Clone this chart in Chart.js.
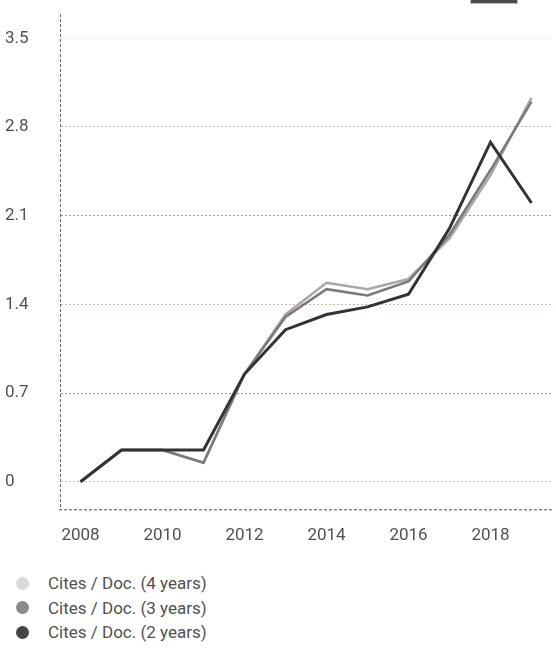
<!DOCTYPE html>
<html>
<head>
<meta charset="utf-8">
<script src="https://cdn.jsdelivr.net/npm/chart.js@4.4.1/dist/chart.umd.min.js"></script>
<style>
  body { margin: 0; background: #fff; font-family: Roboto, "Noto Sans", sans-serif; }
  #wrap { position: relative; width: 556px; height: 652px; overflow: hidden; }
  #citesChart { position: absolute; left: 0; top: 0; }
  #tab { position: absolute; left: 470px; top: -2px; width: 46px; height: 4px; background: #4a4a4a; border: 1px solid #bbb; }
  #legend { position: absolute; left: 0; top: 571px; list-style: none; margin: 0; padding: 0; }
  #legend li { height: 24.5px; display: flex; align-items: center; font-size: 17px; color: #505050; }
  #legend span.dot { display: inline-block; width: 13px; height: 13px; border-radius: 50%; margin-left: 16px; margin-right: 19px; }
</style>
</head>
<body>
<div id="wrap">
  <canvas id="citesChart" width="556" height="562"></canvas>
  <div id="tab"></div>
  <ul id="legend"></ul>
</div>
<script>
const anos = ['2008', '2009', '2010', '2011', '2012', '2013', '2014', '2015', '2016', '2017', '2018', '2019'];
const xTickLabels = ['2008', '2010', '2012', '2014', '2016', '2018'];
const yTicks = [0, 0.7, 1.4, 2.1, 2.8, 3.5];
const yTickLabels = ['0', '0.7', '1.4', '2.1', '2.8', '3.5'];

const cites4 = [0, 0.25, 0.25, 0.15, 0.85, 1.32, 1.57, 1.52, 1.6, 1.92, 2.42, 3.03];
const cites3 = [0, 0.25, 0.25, 0.15, 0.85, 1.3, 1.52, 1.47, 1.58, 1.95, 2.46, 3.0];
const cites2 = [0, 0.25, 0.25, 0.25, 0.85, 1.2, 1.32, 1.38, 1.48, 2.0, 2.68, 2.2];

const gridColors = ['#c8c8c8', '#8a9cc0', '#c9b2a8', '#8a9cc0', '#c9b2a8', '#ececec'];

const datasets = [
    {
        label: 'Cites / Doc. (4 years)',
        data: cites4,
        borderColor: '#a8a8a8',
        backgroundColor: '#d9d9d9',
        borderWidth: 2.5,
        tension: 0,
        pointRadius: 0,
        order: 3
    },
    {
        label: 'Cites / Doc. (3 years)',
        data: cites3,
        borderColor: '#7a7a7a',
        backgroundColor: '#8a8a8a',
        borderWidth: 2.5,
        tension: 0,
        pointRadius: 0,
        order: 2
    },
    {
        label: 'Cites / Doc. (2 years)',
        data: cites2,
        borderColor: '#333333',
        backgroundColor: '#444444',
        borderWidth: 3,
        tension: 0,
        pointRadius: 0,
        order: 1
    }
];

const ctx = document.getElementById('citesChart').getContext('2d');
const chart = new Chart(ctx, {
    type: 'line',
    data: {
        labels: anos,
        datasets: datasets
    },
    options: {
        responsive: false,
        animation: false,
        layout: {
            padding: { left: 5, right: 4, top: 14, bottom: 0 }
        },
        plugins: {
            legend: { display: false },
            tooltip: { enabled: false }
        },
        scales: {
            x: {
                offset: true,
                grid: { display: false, drawTicks: false },
                border: { display: true, color: '#8c8c8c', width: 1.5 },
                ticks: {
                    autoSkip: false,
                    maxRotation: 0,
                    padding: 16,
                    color: '#505050',
                    font: { family: 'Roboto', size: 17 },
                    callback: function(value) {
                        const lab = this.getLabelForValue(value);
                        return xTickLabels.includes(lab) ? lab : '';
                    }
                }
            },
            y: {
                min: -0.22,
                max: 3.69,
                afterBuildTicks: function(scale) {
                    scale.ticks = yTicks.map(v => ({ value: v }));
                },
                afterFit: function(scale) {
                    scale.width = 55;
                },
                grid: {
                    drawTicks: false,
                    lineWidth: 1,
                    color: function(c) {
                        const i = yTicks.indexOf(c.tick ? c.tick.value : NaN);
                        return i >= 0 ? gridColors[i] : 'transparent';
                    }
                },
                border: { display: true, color: '#6a6a6a', width: 1, dash: [2, 2] },
                ticks: {
                    crossAlign: 'far',
                    padding: 4,
                    color: '#505050',
                    font: { family: 'Roboto', size: 17 },
                    callback: function(value, index) {
                        return yTickLabels[index];
                    }
                }
            }
        }
    },
    plugins: [{
        id: 'dashedGrid',
        beforeDraw: function(c) {
            c.ctx.setLineDash([3, 2]);
        },
        beforeDatasetsDraw: function(c) {
            c.ctx.setLineDash([]);
        }
    }]
});

// legend em HTML, empilhada na vertical
const legendEl = document.getElementById('legend');
chart.data.datasets.forEach(ds => {
    const li = document.createElement('li');
    const dot = document.createElement('span');
    dot.className = 'dot';
    dot.style.background = ds.backgroundColor;
    li.appendChild(dot);
    li.appendChild(document.createTextNode(ds.label));
    legendEl.appendChild(li);
});
</script>
</body>
</html>
